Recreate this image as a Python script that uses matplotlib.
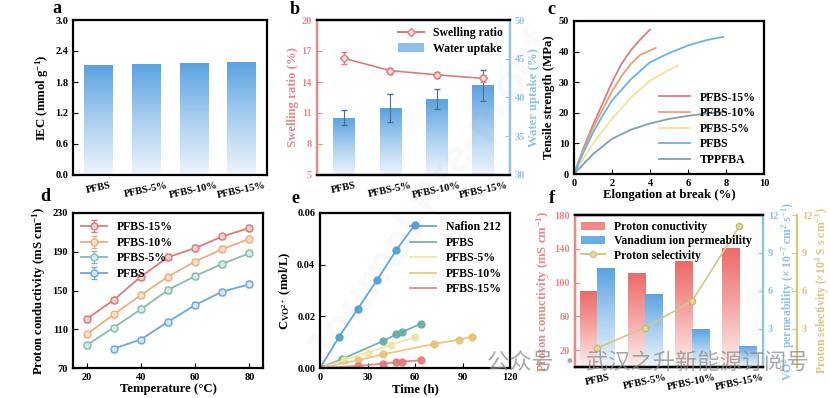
import numpy as np
import matplotlib
matplotlib.use('Agg')
import matplotlib.pyplot as plt
from matplotlib.colors import LinearSegmentedColormap
from matplotlib.lines import Line2D
from matplotlib.patches import Patch

plt.rcParams['font.family'] = ['Liberation Serif', 'DejaVu Serif']
plt.rcParams['font.weight'] = 'bold'
plt.rcParams['axes.labelweight'] = 'bold'
plt.rcParams['mathtext.default'] = 'regular'
plt.rcParams['axes.linewidth'] = 1.6
plt.rcParams['xtick.direction'] = 'in'
plt.rcParams['ytick.direction'] = 'in'
plt.rcParams['xtick.labelsize'] = 7.5
plt.rcParams['ytick.labelsize'] = 7.5
plt.rcParams['axes.labelsize'] = 9.2
plt.rcParams['legend.fontsize'] = 8

membranes = ['PFBS', 'PFBS-5%', 'PFBS-10%', 'PFBS-15%']

# (a) ion exchange capacity
iec = [2.12, 2.15, 2.17, 2.19]

# (b) swelling ratio / water uptake
swelling = [16.3, 15.1, 14.7, 14.35]
swelling_err = [0.6, 0.3, 0.3, 0.35]
water = [37.4, 38.6, 39.8, 41.6]
water_err = [1.0, 1.8, 1.3, 2.0]

# (c) stress-strain curves
c_names = ['PFBS-15%', 'PFBS-10%', 'PFBS-5%', 'PFBS', 'TPPFBA']
c_colors = ['#d97f80', '#e2a472', '#f1e2a4', '#6cb2e2', '#7ea2aa']
strain_15 = [0, 0.5, 1.0, 1.5, 2.0, 2.5, 3.0, 3.5, 4.0]
stress_15 = [0, 8.5, 16, 23, 30, 36, 40.5, 44, 47.2]
strain_10 = [0, 0.5, 1.0, 1.5, 2.0, 2.5, 3.0, 3.5, 4.3]
stress_10 = [0, 8, 15, 21, 27, 32, 36, 39, 41.2]
strain_5 = [0, 1.0, 2.0, 3.0, 4.0, 5.0, 5.5]
stress_5 = [0, 10, 18, 25, 30.5, 34, 35.5]
strain_0 = [0, 0.5, 1.0, 1.5, 2.0, 3.0, 4.0, 5.0, 6.0, 7.0, 7.85]
stress_0 = [0, 7, 13.5, 19, 24, 31, 36.5, 39.5, 42, 43.8, 44.8]
strain_tp = [0, 1.0, 2.0, 3.0, 4.0, 5.0, 6.0, 7.0, 8.0]
stress_tp = [0, 6.5, 11.5, 14.5, 16.5, 18, 19, 19.8, 20.3]

# (d) proton conductivity vs temperature
temps = [20, 30, 40, 50, 60, 70, 80]
cond_15 = [120.5, 140.2, 164.3, 184.4, 193.7, 205.8, 214.5]
cond_10 = [104.6, 125.3, 145.3, 164.3, 179.9, 192.7, 203.4]
cond_5 = [93.5, 111.8, 130.5, 150.5, 165.0, 177.5, 188.5]
temps_0 = [30, 40, 50, 60, 70, 80]
cond_0 = [90.0, 99.4, 117.7, 135.0, 148.8, 156.4]

# (e) VO2+ permeation
t_naf = [0, 12, 24, 36, 48, 60]
c_naf = [0, 0.012, 0.023, 0.034, 0.0455, 0.0555]
t_pf0 = [0, 14, 40, 48, 52, 64]
c_pf0 = [0, 0.0035, 0.0105, 0.013, 0.014, 0.0172]
t_pf5 = [0, 15, 30, 45, 60]
c_pf5 = [0, 0.003, 0.006, 0.009, 0.012]
t_pf10 = [0, 24, 40, 72, 88, 96]
c_pf10 = [0, 0.003, 0.0053, 0.0093, 0.011, 0.012]
t_pf15 = [0, 24, 40, 48, 52, 64]
c_pf15 = [0, 0.0008, 0.0017, 0.0022, 0.0025, 0.003]

# (f) conductivity / permeability / selectivity
f_cond = [90, 111, 125, 141]
f_perm = [7.85, 5.8, 3.0, 1.67]
f_sel = [1.5, 3.1, 5.2, 11.1]

W, H = 830, 398
fig = plt.figure(figsize=(W / 100, H / 100), dpi=100)


def rect(x0, y0, x1, y1):
    return [x0 / W, 1 - y1 / H, (x1 - x0) / W, (y1 - y0) / H]


blue_cm = LinearSegmentedColormap.from_list('b', ['#eef5fc', '#a9cff0', '#5aa2e2'])
red_cm = LinearSegmentedColormap.from_list('r', ['#fdeeee', '#f4a9a7', '#ec6966'])
grad = np.linspace(0, 1, 256).reshape(-1, 1)


def grad_bars(ax, x, h, width, cmap, bottom=0):
    bars = ax.bar(x, np.array(h) - bottom, width, bottom=bottom,
                  color='none', edgecolor='none', zorder=2)
    for b in bars:
        x0, y0 = b.get_x(), b.get_y()
        im = ax.imshow(grad, extent=[x0, x0 + b.get_width(), y0, y0 + b.get_height()],
                       origin='lower', aspect='auto', cmap=cmap, zorder=2)
        im.set_clip_path(b)
    return bars


def cat_xticks(ax):
    ax.set_xticks(range(len(membranes)))
    ax.set_xticklabels(membranes, rotation=12, fontsize=7.5)
    ax.tick_params(axis='x', length=0, pad=4)


def twin_colors(axes, left, right):
    for a in axes:
        a.spines['left'].set_color(left)
        a.spines['right'].set_color(right)


xs = np.arange(len(membranes))

# ---- a
ax = fig.add_axes(rect(73, 20, 267, 175))
grad_bars(ax, xs, iec, 0.6, blue_cm)
ax.set_xlim(-0.53, 3.53)
ax.set_ylim(0, 3.0)
ax.set_yticks(np.arange(0, 3.01, 0.6))
ax.yaxis.set_major_formatter(plt.FormatStrFormatter('%.1f'))
ax.set_ylabel('IEC (mmol g$^{-1}$)', labelpad=3)
cat_xticks(ax)
fig.text(52 / W, 1 - 13 / H, 'a', fontsize=13, fontweight='bold')

# ---- b
red_ax = '#e58a88'
blue_ax = '#8fc3e6'
axb = fig.add_axes(rect(317, 20, 510, 175))
axb2 = axb.twinx()
grad_bars(axb2, xs, water, 0.46, blue_cm, bottom=30)
axb2.errorbar(xs, water, yerr=water_err, fmt='none', ecolor='#4f6f8f',
              elinewidth=0.8, capsize=2, zorder=3)
axb.errorbar(xs, swelling, yerr=swelling_err, color='#e07a7a', lw=1.2, marker='D',
             ms=4, mfc='#fbe3e3', mec='#e07a7a', capsize=2, elinewidth=0.8)
axb.set_zorder(axb2.get_zorder() + 1)
axb.patch.set_visible(False)
axb.set_xlim(-0.58, 3.58)
axb.set_ylim(5, 20)
axb.set_yticks([5, 8, 11, 14, 17, 20])
axb2.set_ylim(30, 50)
axb2.set_yticks([30, 35, 40, 45, 50])
axb.set_ylabel('Swelling ratio (%)', color=red_ax, labelpad=2)
axb2.set_ylabel('Water uptake (%)', color=blue_ax, labelpad=2)
axb.tick_params(axis='y', colors=red_ax)
axb2.tick_params(axis='y', colors=blue_ax)
twin_colors([axb, axb2], red_ax, blue_ax)
cat_xticks(axb)
axb.legend([Line2D([], [], color='#e07a7a', marker='D', ms=4, mfc='#fbe3e3'),
            Patch(facecolor='#8cc0ea')], ['Swelling ratio', 'Water uptake'],
           loc='upper right', frameon=False, fontsize=8.5, handlelength=2.2,
           borderaxespad=0.2, labelspacing=0.3)
fig.text(290 / W, 1 - 14 / H, 'b', fontsize=13, fontweight='bold')

# ---- c
axc = fig.add_axes(rect(574, 21, 764, 174))
for sx, sy, col, name in zip([strain_15, strain_10, strain_5, strain_0, strain_tp],
                             [stress_15, stress_10, stress_5, stress_0, stress_tp],
                             c_colors, c_names):
    axc.plot(sx, sy, color=col, lw=1.3, label=name)
axc.set_xlim(0, 10)
axc.set_ylim(0, 50)
axc.set_xticks([0, 2, 4, 6, 8, 10])
axc.set_yticks([0, 10, 20, 30, 40, 50])
axc.set_xlabel('Elongation at break (%)', labelpad=1)
axc.set_ylabel('Tensile strength (MPa)', labelpad=3)
axc.legend(loc='lower right', frameon=False, handlelength=2.6, labelspacing=0.3,
           borderaxespad=0.3, fontsize=8.5)
fig.text(547 / W, 1 - 14 / H, 'c', fontsize=13, fontweight='bold')

# ---- d
axd = fig.add_axes(rect(73, 213, 263, 368))
d_sets = [(temps, cond_15, '#e07878', '#f7cccc', 'PFBS-15%'),
          (temps, cond_10, '#f0ae7e', '#fbe0cc', 'PFBS-10%'),
          (temps, cond_5, '#86bcb2', '#d6ebe6', 'PFBS-5%'),
          (temps_0, cond_0, '#6aa9d6', '#d2e6f5', 'PFBS')]
for tx, ty, col, fc, name in d_sets:
    axd.errorbar(tx, ty, yerr=3, color=col, lw=1.3, marker='o', ms=5, mfc=fc, mec=col,
                 capsize=2, elinewidth=0.8, label=name)
axd.set_xlim(15, 85)
axd.set_ylim(70, 230)
axd.set_xticks([20, 40, 60, 80])
axd.set_yticks([70, 110, 150, 190, 230])
axd.set_xlabel('Temperature (\u00b0C)', labelpad=1)
axd.set_ylabel('Proton conductivity (mS cm$^{-1}$)', labelpad=3)
axd.legend(loc='upper left', frameon=False, handlelength=2.2, labelspacing=0.3,
           borderaxespad=0.3, fontsize=8.5)
fig.text(40 / W, 1 - 201 / H, 'd', fontsize=13, fontweight='bold')

# ---- e
axe = fig.add_axes(rect(320, 213, 510, 368))
e_sets = [(t_naf, c_naf, '#4e9fd2', 'Nafion 212'),
          (t_pf0, c_pf0, '#5fae9e', 'PFBS'),
          (t_pf5, c_pf5, '#f1e4a6', 'PFBS-5%'),
          (t_pf10, c_pf10, '#e8c276', 'PFBS-10%'),
          (t_pf15, c_pf15, '#e37a7a', 'PFBS-15%')]
for tx, cy, col, name in e_sets:
    axe.plot(tx, cy, color=col, lw=1.3, marker='o', ms=5, mfc=col, mec=col,
             alpha=0.9, label=name)
axe.set_xlim(0, 120)
axe.set_ylim(0, 0.06)
axe.set_xticks([0, 30, 60, 90, 120])
axe.set_yticks([0, 0.02, 0.04, 0.06])
axe.yaxis.set_major_formatter(plt.FormatStrFormatter('%.2f'))
axe.set_xlabel('Time (h)', labelpad=1)
axe.set_ylabel('C$_{VO^{2+}}$ (mol/L)', labelpad=3)
axe.legend(loc='upper right', frameon=False, handlelength=2.2, labelspacing=0.3,
           borderaxespad=0.3, markerscale=0, fontsize=8.5)
fig.text(291 / W, 1 - 203 / H, 'e', fontsize=13, fontweight='bold')

# ---- f
yel_ax = '#d9c680'
axf = fig.add_axes(rect(575, 215, 763, 367))
axf2 = axf.twinx()
axf3 = axf.twinx()
bw = 0.36
grad_bars(axf, xs - bw / 2, f_cond, bw, red_cm)
grad_bars(axf2, xs + bw / 2, f_perm, bw, blue_cm)
axf3.plot(xs, f_sel, color='#d6c784', lw=1.2, marker='o', ms=4.5, mfc='#e4d8a0',
          mec='#c8b870')
axf.set_xlim(-0.47, 3.5)
axf.set_ylim(0, 180)
axf.set_yticks([20, 60, 100, 140, 180])
axf2.set_ylim(0, 12)
axf2.set_yticks([3, 6, 9, 12])
axf3.set_ylim(0, 12)
axf3.set_yticks([3, 6, 9, 12])
axf3.spines['right'].set_position(('axes', 1.18))
axf.set_ylabel('Proton conuctivity (mS cm$^{-1}$)', color=red_ax, labelpad=2)
axf2.set_ylabel('VO$^{2+}$ permeability (\u00d7 10$^{-7}$ cm$^{2}$ s$^{-1}$)',
                color=blue_ax, labelpad=1, fontsize=8.5)
axf3.set_ylabel('Proton selectivity (\u00d710$^{4}$ S s cm$^{-3}$)', color=yel_ax,
                labelpad=1, fontsize=8.5)
axf.tick_params(axis='y', colors=red_ax)
axf2.tick_params(axis='y', colors=blue_ax)
axf3.tick_params(axis='y', colors=yel_ax)
twin_colors([axf, axf2, axf3], red_ax, blue_ax)
axf3.spines['right'].set_color(yel_ax)
cat_xticks(axf)
axf3.legend([Patch(facecolor='#f08a88'), Patch(facecolor='#6aaee6'),
             Line2D([], [], color='#d6c784', marker='o', ms=4.5, mfc='#e4d8a0')],
            ['Proton conuctivity', 'Vanadium ion permeability', 'Proton selectivity'],
            loc='upper left', frameon=False, fontsize=8.5, handlelength=2.0,
            labelspacing=0.2, borderaxespad=0.1)
fig.text(549 / W, 1 - 203 / H, 'f', fontsize=13, fontweight='bold')

# watermarks
fig.text(0.52, 0.5, 'Journal Pre-proof', fontsize=34, color='#999999', alpha=0.06,
         rotation=55, ha='center', va='center', family='Liberation Sans')
fig.text(487 / W, 1 - 362 / H, '\u516c\u4f17\u53f7 \u00b7 \u6b66\u6c49\u4e4b\u5347\u65b0\u80fd\u6e90\u8ba2\u9605\u53f7',
         fontsize=16, color='#8a8a8a', alpha=0.75, va='center', weight='normal',
         family=['Noto Sans CJK SC', 'DejaVu Sans'])

fig.savefig('out.png', dpi=100)
